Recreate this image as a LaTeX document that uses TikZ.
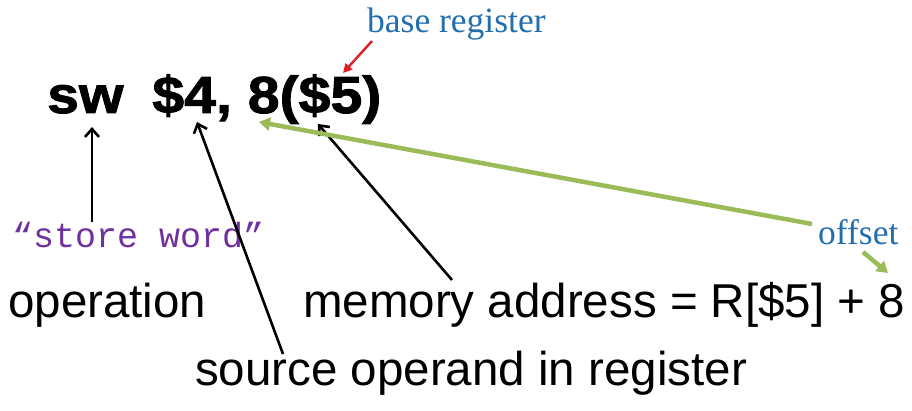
\documentclass[tikz,border=0pt]{standalone}
\usepackage{fontspec}
\setmainfont{Liberation Sans}
\newfontfamily\serifT{Liberation Serif}
\newfontfamily\monoT{Liberation Mono}
\newfontface\heavyT[FakeBold=1.8,FakeStretch=1.1]{Liberation Sans Bold}
\usetikzlibrary{arrows.meta}
\definecolor{blueT}{RGB}{35,110,175}
\definecolor{purpleT}{RGB}{112,48,160}
\definecolor{greenA}{RGB}{155,187,89}
\definecolor{redA}{RGB}{228,30,37}
\tikzset{
  txt/.style={inner sep=0pt, anchor=base west},
  big/.style={txt, font=\fontsize{47.5}{50}\selectfont},
  instr/.style={txt, font=\fontsize{52}{56}\selectfont\heavyT},
  note/.style={txt, text=blueT, font=\fontsize{35.5}{38}\selectfont\serifT},
  blackarrow/.style={draw=black, line width=2.6pt, -{Straight Barb[length=8pt,width=14pt,line width=2.6pt]}},
  greenarrow/.style={draw=greenA, line width=4.5pt, -{Triangle[length=11pt,width=13pt]}},
  redarrow/.style={draw=redA, line width=2.4pt, -{Triangle[length=9pt,width=9pt]}}
}
\begin{document}
\begin{tikzpicture}[x=1pt,y=-1pt]
\useasboundingbox[fill=white] (0,0) rectangle (912,411);
% texts
\node[instr] (instr) at (47,113) {sw\hspace{0.556em}\$4, 8(\$5)};
\node[note] (base) at (367,33) {base register};
\node[note] (offset) at (818,245) {offset};
\node[txt, text=purpleT, font=\fontsize{35}{38}\selectfont\monoT] (store) at (12,248) {“store word”};
\node[big] (op) at (8,317) {operation};
\node[big] (mem) at (303,317) {memory address = R[\$5] + 8};
\node[big] (src) at (195,385) {source operand in register};
% connector end points
\coordinate (swT) at (92,127);
\coordinate (fourT) at (197,122);
\coordinate (fiveT) at (318,124);
\coordinate (eightT) at (259,122);
\coordinate (srcS) at (283,354);
\coordinate (memS) at (452,280);
\coordinate (offS) at (812,224);
\coordinate (offA) at (863,252);
\coordinate (offT) at (888,273);
\coordinate (baseS) at (372,41);
\coordinate (baseT) at (343,73);
% connectors
\draw[blackarrow] (store.north -| swT) -- (swT);
\draw[blackarrow] (srcS) -- (fourT);
\draw[blackarrow] (memS) -- (fiveT);
\draw[greenarrow] (offS) -- (eightT);
\draw[greenarrow] (offA) -- (offT);
\draw[redarrow] (baseS) -- (baseT);
\end{tikzpicture}
\end{document}
